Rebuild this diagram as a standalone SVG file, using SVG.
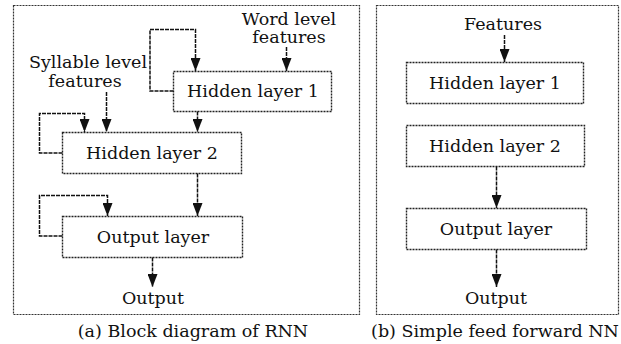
<svg xmlns="http://www.w3.org/2000/svg" width="621" height="344" viewBox="0 0 621 344">
  <defs>
    <marker id="arrow" viewBox="0 0 13 10" refX="13" refY="5" markerWidth="13" markerHeight="10" markerUnits="userSpaceOnUse" orient="auto">
      <path d="M0,0 L13,5 L0,10 Z" fill="#111"/>
    </marker>
  </defs>
  <style>
    .panel { fill: #fff; stroke: #333; stroke-width: 1.2; stroke-dasharray: 2 1; }
    .box { fill: #fff; stroke: #222; stroke-width: 1.4; stroke-dasharray: 2 1; }
    .lbl { font-family: "DejaVu Serif", "Liberation Serif", serif; font-size: 17.5px; fill: #111; text-anchor: middle; }
    .cap { font-family: "DejaVu Serif", "Liberation Serif", serif; font-size: 17.5px; fill: #111; text-anchor: middle; }
    .edge { fill: none; stroke: #111; stroke-width: 1.5; stroke-dasharray: 4 1; }
    .down { marker-end: url(#arrow); }
  </style>
  <rect width="621" height="344" fill="#fff"/>

  <!-- panel frames -->
  <g id="panel-a">
    <rect class="panel" x="13.5" y="5.5" width="346" height="309"/>
  </g>
  <g id="panel-b">
    <rect class="panel" x="376.5" y="5.5" width="242" height="309"/>
  </g>

  <!-- (a) recurrent network -->
  <g id="a-hidden1">
    <rect class="box" x="173.5" y="71.5" width="158" height="40"/>
    <text class="lbl" x="253" y="97">Hidden layer 1</text>
  </g>
  <g id="a-hidden2">
    <rect class="box" x="62.5" y="132.5" width="179" height="41"/>
    <text class="lbl" x="152" y="159">Hidden layer 2</text>
  </g>
  <g id="a-output-layer">
    <rect class="box" x="62.5" y="216.5" width="180" height="41"/>
    <text class="lbl" x="153" y="243">Output layer</text>
  </g>
  <g id="a-word-features">
    <text class="lbl" x="289" y="25">Word level</text>
    <text class="lbl" x="289" y="43">features</text>
  </g>
  <g id="a-syllable-features">
    <text class="lbl" x="88" y="68">Syllable level</text>
    <text class="lbl" x="85" y="87">features</text>
  </g>
  <g id="a-output">
    <text class="lbl" x="153" y="304">Output</text>
  </g>

  <!-- (b) feed forward network -->
  <g id="b-features">
    <text class="lbl" x="503" y="30">Features</text>
  </g>
  <g id="b-hidden1">
    <rect class="box" x="406.5" y="62.5" width="177" height="41"/>
    <text class="lbl" x="495" y="89">Hidden layer 1</text>
  </g>
  <g id="b-hidden2">
    <rect class="box" x="406.5" y="125.5" width="178" height="41"/>
    <text class="lbl" x="495" y="152">Hidden layer 2</text>
  </g>
  <g id="b-output-layer">
    <rect class="box" x="406.5" y="208.5" width="180" height="41"/>
    <text class="lbl" x="496" y="235">Output layer</text>
  </g>
  <g id="b-output">
    <text class="lbl" x="496" y="304">Output</text>
  </g>

  <!-- connectors -->
  <g id="connectors">
    <!-- (a) -->
    <path class="edge down" d="M173.5,91 H150 V29.5 H195.5 V71"/>
    <path class="edge down" d="M286.5,47 V71"/>
    <path class="edge down" d="M106.5,92 V132"/>
    <path class="edge down" d="M62.5,153 H39.5 V113.5 H84.5 V132"/>
    <path class="edge down" d="M197.5,111.5 V132"/>
    <path class="edge down" d="M197.5,173.5 V216"/>
    <path class="edge down" d="M62.5,236 H39.5 V195.5 H107.5 V216"/>
    <path class="edge down" d="M152.5,257.5 V287"/>
    <!-- (b) -->
    <path class="edge down" d="M504.5,35 V62"/>
    <path class="edge down" d="M496.5,166.5 V208"/>
    <path class="edge down" d="M496.5,249.5 V287"/>
  </g>

  <!-- captions -->
  <text class="cap" x="193" y="337">(a) Block diagram of RNN</text>
  <text class="cap" x="495" y="337">(b) Simple feed forward NN</text>
</svg>
